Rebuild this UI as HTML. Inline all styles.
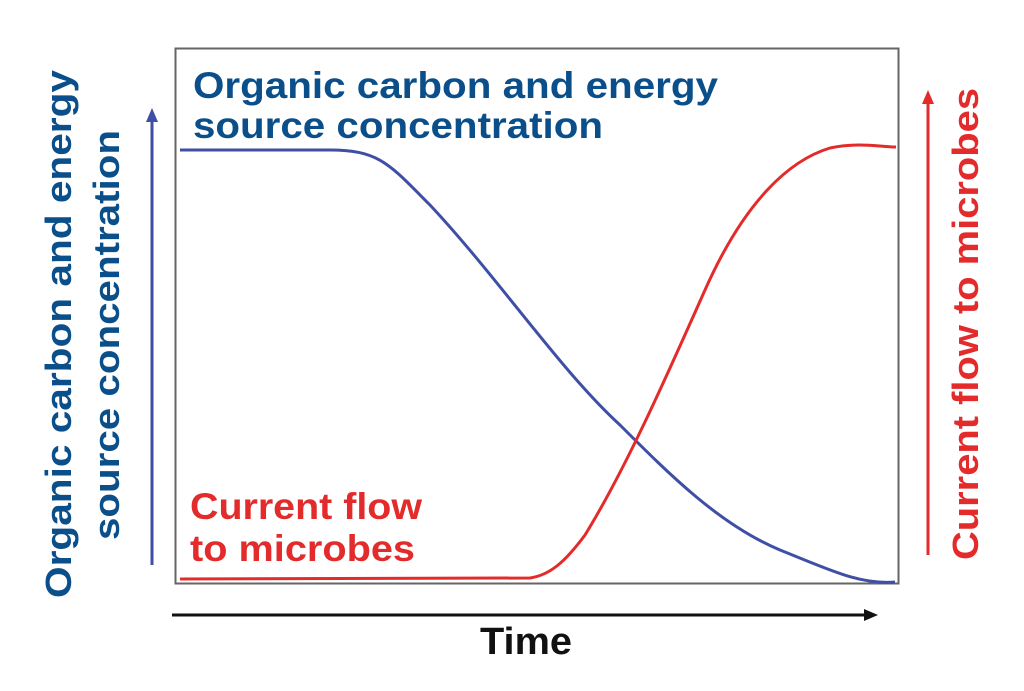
<!DOCTYPE html>
<html><head><style>body{margin:0;background:#fff}svg{display:block}</style></head>
<body>
<svg width="1024" height="691" viewBox="0 0 1024 691" xmlns="http://www.w3.org/2000/svg" font-family="Liberation Sans, sans-serif" font-weight="bold">
<rect x="175.5" y="48.5" width="723" height="535" fill="none" stroke="#666" stroke-width="2"/>
<text x="193" y="98" font-size="37" fill="#0b4f8a" textLength="525" lengthAdjust="spacingAndGlyphs">Organic carbon and energy</text>
<text x="193" y="138" font-size="37" fill="#0b4f8a" textLength="410" lengthAdjust="spacingAndGlyphs">source concentration</text>
<text x="190" y="519" font-size="37" fill="#e32b2b" textLength="232" lengthAdjust="spacingAndGlyphs">Current flow</text>
<text x="190" y="561" font-size="37" fill="#e32b2b" textLength="225" lengthAdjust="spacingAndGlyphs">to microbes</text>
<path d="M180,150 L330,150 C380,150 390,165 430,205 C500,280 560,370 620,425 C670,475 720,525 780,550 C830,570 860,585 895,582" fill="none" stroke="#3e4fa5" stroke-width="3"/>
<path d="M180,579 L530,578 C550,575 565,562 585,535 C625,470 665,380 705,290 C745,200 790,160 830,148 C860,142 880,147 896,147" fill="none" stroke="#e32b2b" stroke-width="3"/>
<line x1="152" y1="565" x2="152" y2="118" stroke="#3e4fa5" stroke-width="3"/>
<polygon points="152,108 146,122 158,122" fill="#3e4fa5"/>
<line x1="928" y1="555" x2="928" y2="100" stroke="#e32b2b" stroke-width="3"/>
<polygon points="928,90 922,104 934,104" fill="#e32b2b"/>
<line x1="172" y1="615" x2="866" y2="615" stroke="#111" stroke-width="3"/>
<polygon points="878,615 864,609 864,621" fill="#111"/>
<text x="480" y="654" font-size="38" fill="#111" textLength="92" lengthAdjust="spacingAndGlyphs">Time</text>
<text transform="translate(71,598) rotate(-90)" font-size="36" fill="#0b4f8a" textLength="528" lengthAdjust="spacingAndGlyphs">Organic carbon and energy</text>
<text transform="translate(119,540) rotate(-90)" font-size="36" fill="#0b4f8a" textLength="410" lengthAdjust="spacingAndGlyphs">source concentration</text>
<text transform="translate(978,560) rotate(-90)" font-size="36" fill="#e32b2b" textLength="472" lengthAdjust="spacingAndGlyphs">Current flow to microbes</text>
</svg>
</body></html>
